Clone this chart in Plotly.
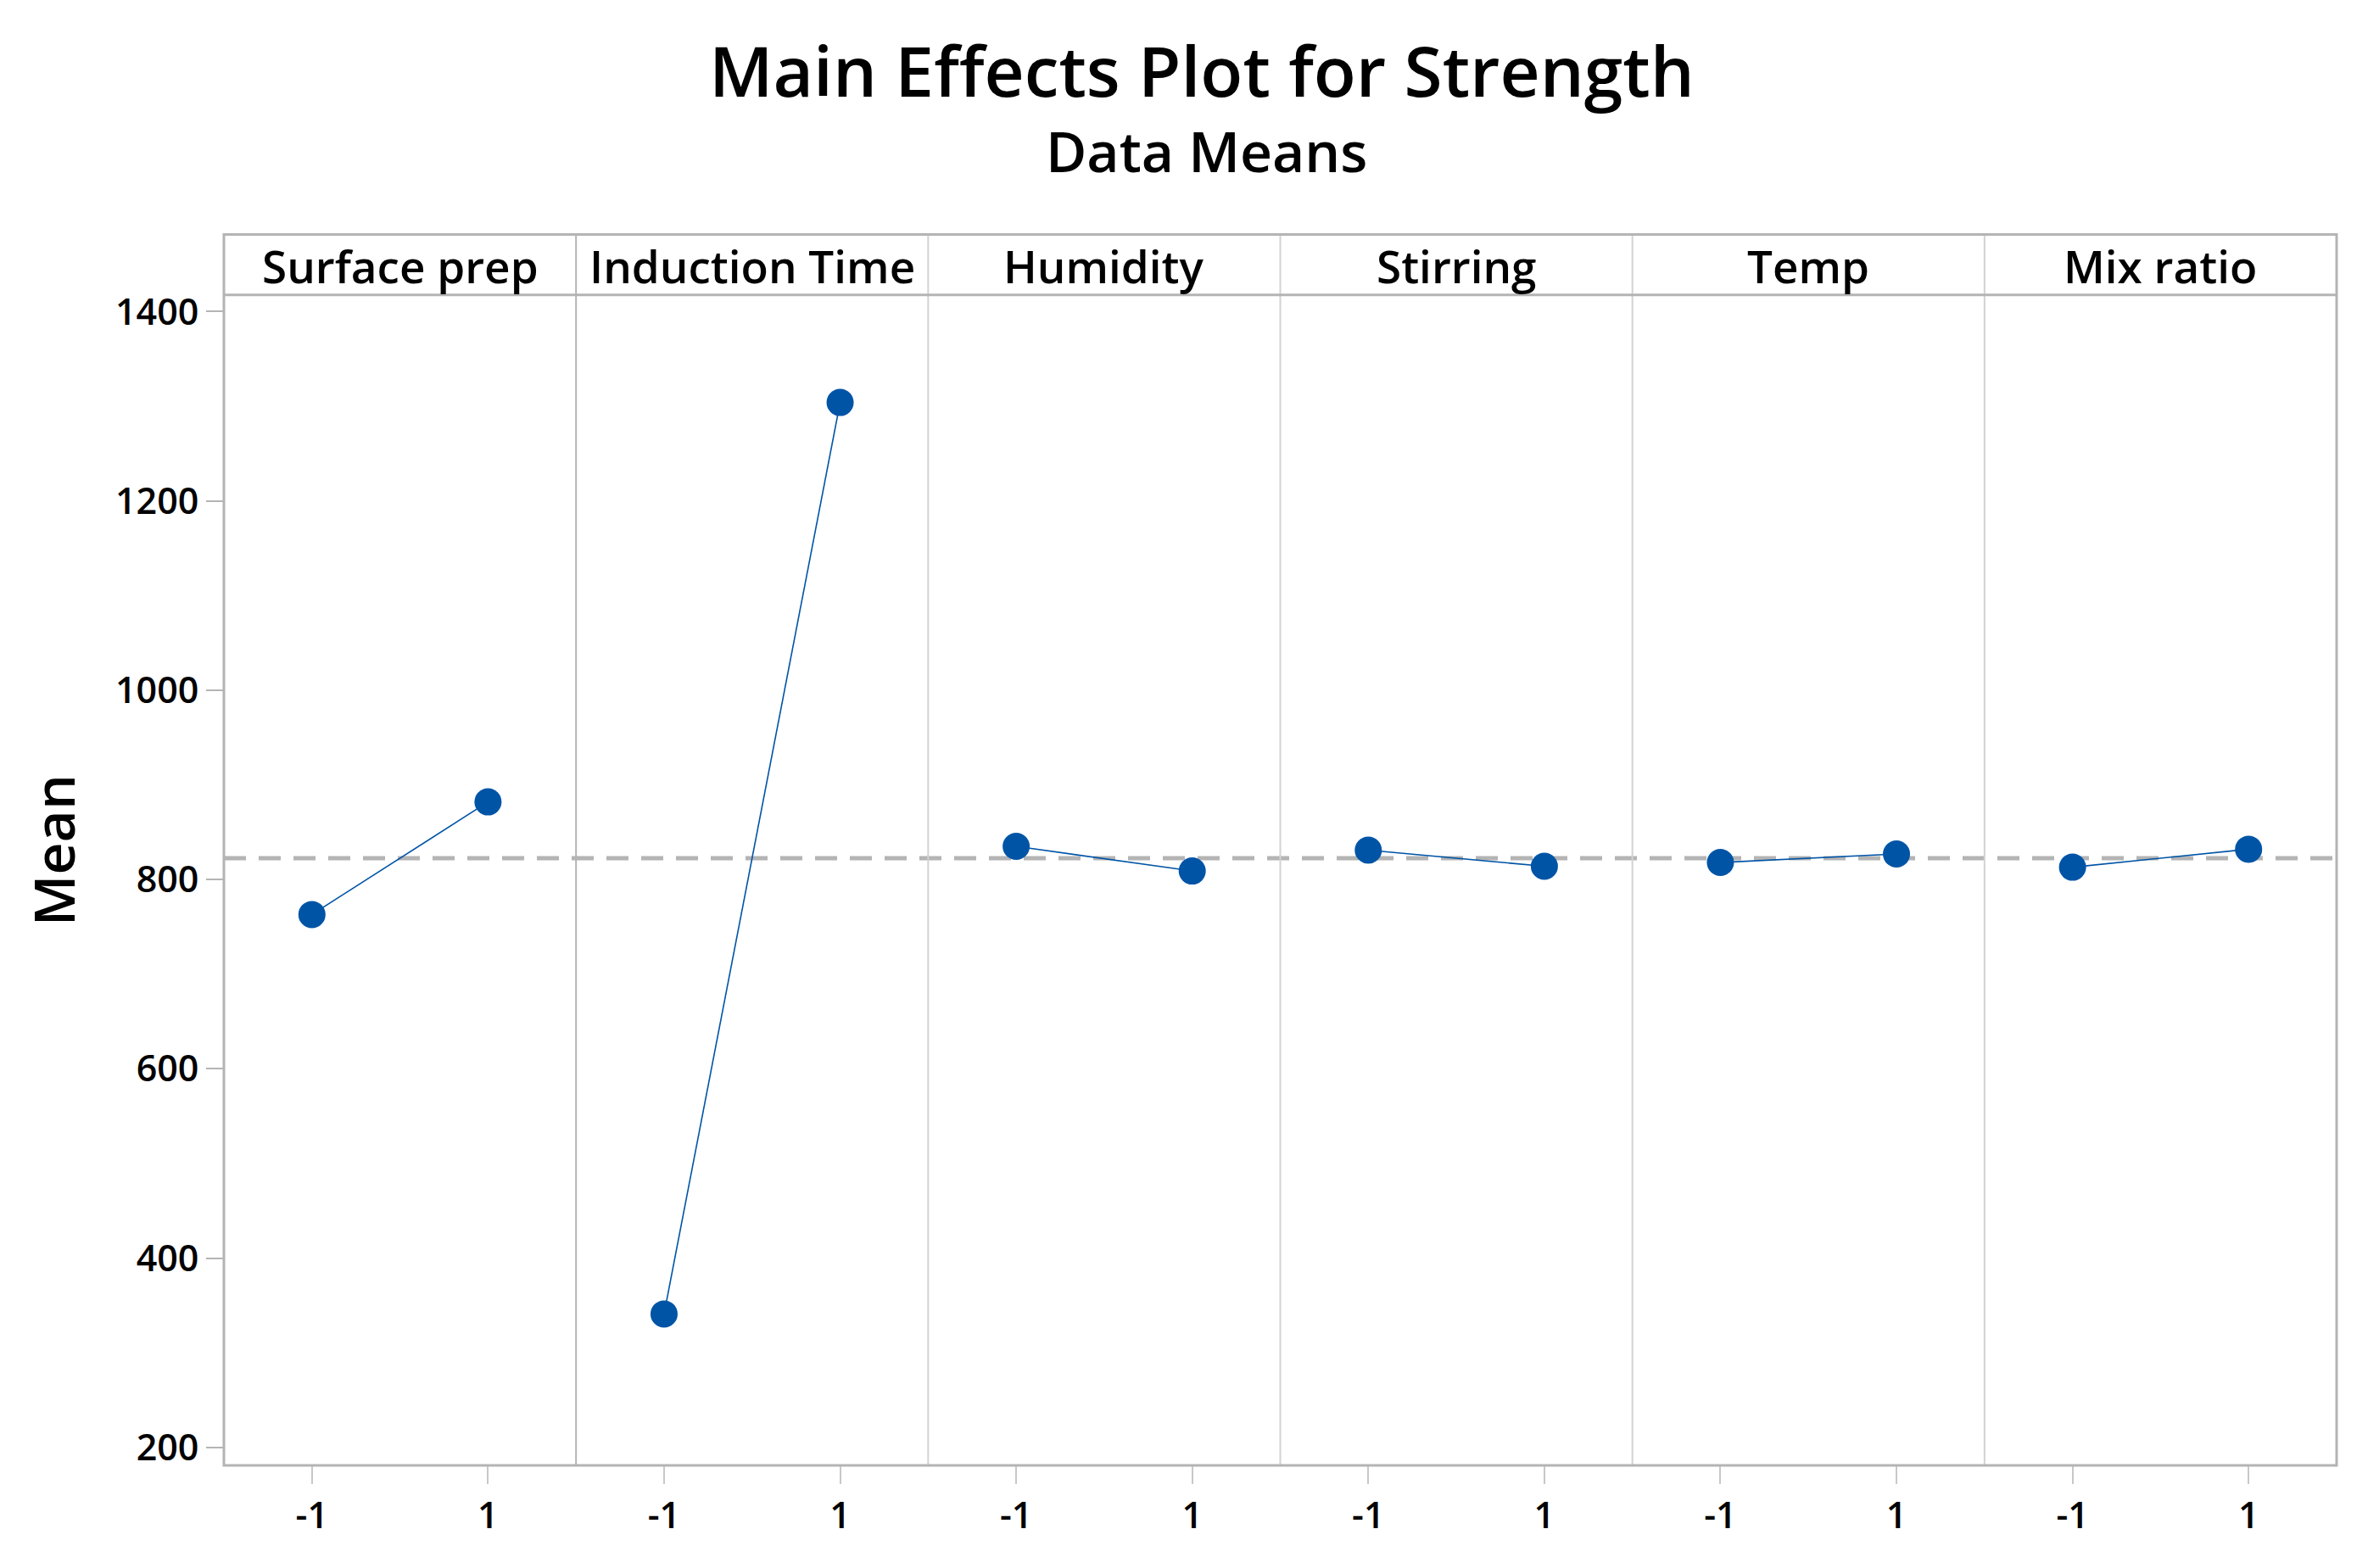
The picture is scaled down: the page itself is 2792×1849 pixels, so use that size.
import numpy as np
import plotly.graph_objects as go

# ---- data ----
factors = ["Surface prep", "Induction Time", "Humidity", "Stirring", "Temp", "Mix ratio"]
levels = [-1, 1]
level_labels = ["-1", "1"]
mean_low = [763, 341, 835, 831, 818, 813]
mean_high = [882, 1304, 809, 814, 827, 832]
y_ticks = [200, 400, 600, 800, 1000, 1200, 1400]

# ---- layout geometry (pixels) ----
W, H = 2792, 1849
X_L, X_R = 264, 2755
Y_HEAD, Y_TOP, Y_BOT = 268, 340, 1734
FONT = "Open Sans"
WT = 600
BLUE = "#0054a6"
n = len(factors)
pw = (X_R - X_L) / n

def px(x):
    return x / W

def py(y):
    return 1 - y / H

grand_mean = float(np.mean(mean_low + mean_high))

fig = go.Figure()
layout = dict(
    width=W, height=H,
    margin=dict(l=0, r=0, t=0, b=0),
    paper_bgcolor="white", plot_bgcolor="white",
    showlegend=False,
    font=dict(family=FONT, color="black", weight=WT),
)

for i, f in enumerate(factors):
    xa = "x" if i == 0 else f"x{i+1}"
    fig.add_trace(go.Scatter(
        x=levels, y=[mean_low[i], mean_high[i]],
        xaxis=xa, yaxis="y",
        mode="lines+markers",
        line=dict(color=BLUE, width=1.6),
        marker=dict(color=BLUE, size=32),
        name=f, hoverinfo="x+y",
    ))
    key = "xaxis" if i == 0 else f"xaxis{i+1}"
    layout[key] = dict(
        domain=[px(X_L + i * pw), px(X_L + (i + 1) * pw)],
        range=[-2, 2],
        tickvals=levels, ticktext=level_labels,
        ticks="outside", ticklen=21, tickwidth=2, tickcolor="#c8c8c8",
        tickfont=dict(size=43, family=FONT, color="black", weight=WT),
        showgrid=False, zeroline=False, showline=False,
        anchor="y",
    )

layout["yaxis"] = dict(
    domain=[py(Y_BOT), py(Y_TOP)],
    range=[180.9, 1417.7],
    tickvals=y_ticks,
    ticks="outside", ticklen=20, tickwidth=2, tickcolor="#b4b4b4",
    tickfont=dict(size=43, family=FONT, color="black", weight=WT),
    showgrid=False, zeroline=False, showline=False,
    anchor="x",
)

shapes = []
# mean dashed line
shapes.append(dict(type="line", xref="paper", yref="y",
                   x0=px(X_L), x1=px(X_R), y0=grand_mean, y1=grand_mean,
                   line=dict(color="#b4b4b4", width=5, dash="26px,15px"),
                   layer="below"))
# internal separators
for i in range(1, n):
    xx = px(X_L + i * pw)
    col = "#b4b4b4" if i == 1 else "#d2d2d2"
    shapes.append(dict(type="line", xref="paper", yref="paper",
                       x0=xx, x1=xx, y0=py(Y_BOT), y1=py(Y_HEAD),
                       line=dict(color=col, width=2)))
# header bottom line
shapes.append(dict(type="line", xref="paper", yref="paper",
                   x0=px(X_L), x1=px(X_R), y0=py(Y_TOP), y1=py(Y_TOP),
                   line=dict(color="#b4b4b4", width=3)))
# outer frame
shapes.append(dict(type="rect", xref="paper", yref="paper",
                   x0=px(X_L), x1=px(X_R), y0=py(Y_BOT), y1=py(Y_HEAD),
                   line=dict(color="#b4b4b4", width=3)))
layout["shapes"] = shapes

ann = []
ann.append(dict(text="Main Effects Plot for Strength", xref="paper", yref="paper",
                x=px(1417), y=py(72), xanchor="center", yanchor="middle",
                showarrow=False, font=dict(size=82, family=FONT, color="black", weight=WT)))
ann.append(dict(text="Data Means", xref="paper", yref="paper",
                x=px(1422), y=py(168), xanchor="center", yanchor="middle",
                showarrow=False, font=dict(size=66, family=FONT, color="black", weight=WT)))
ann.append(dict(text="Mean", xref="paper", yref="paper",
                x=px(62), y=py(1002), xanchor="center", yanchor="middle",
                textangle=-90, showarrow=False,
                font=dict(size=66, family=FONT, color="black", weight=WT)))
for i, f in enumerate(factors):
    ann.append(dict(text=f, xref="paper", yref="paper",
                    x=px(X_L + (i + 0.5) * pw), y=py(305),
                    xanchor="center", yanchor="middle", showarrow=False,
                    font=dict(size=53, family=FONT, color="black", weight=WT)))
layout["annotations"] = ann

fig.update_layout(**layout)
fig.write_html(
    "out.html",
    config={"displayModeBar": False},
    post_script="document.body.style.margin='0';document.body.style.overflow='hidden';",
)
